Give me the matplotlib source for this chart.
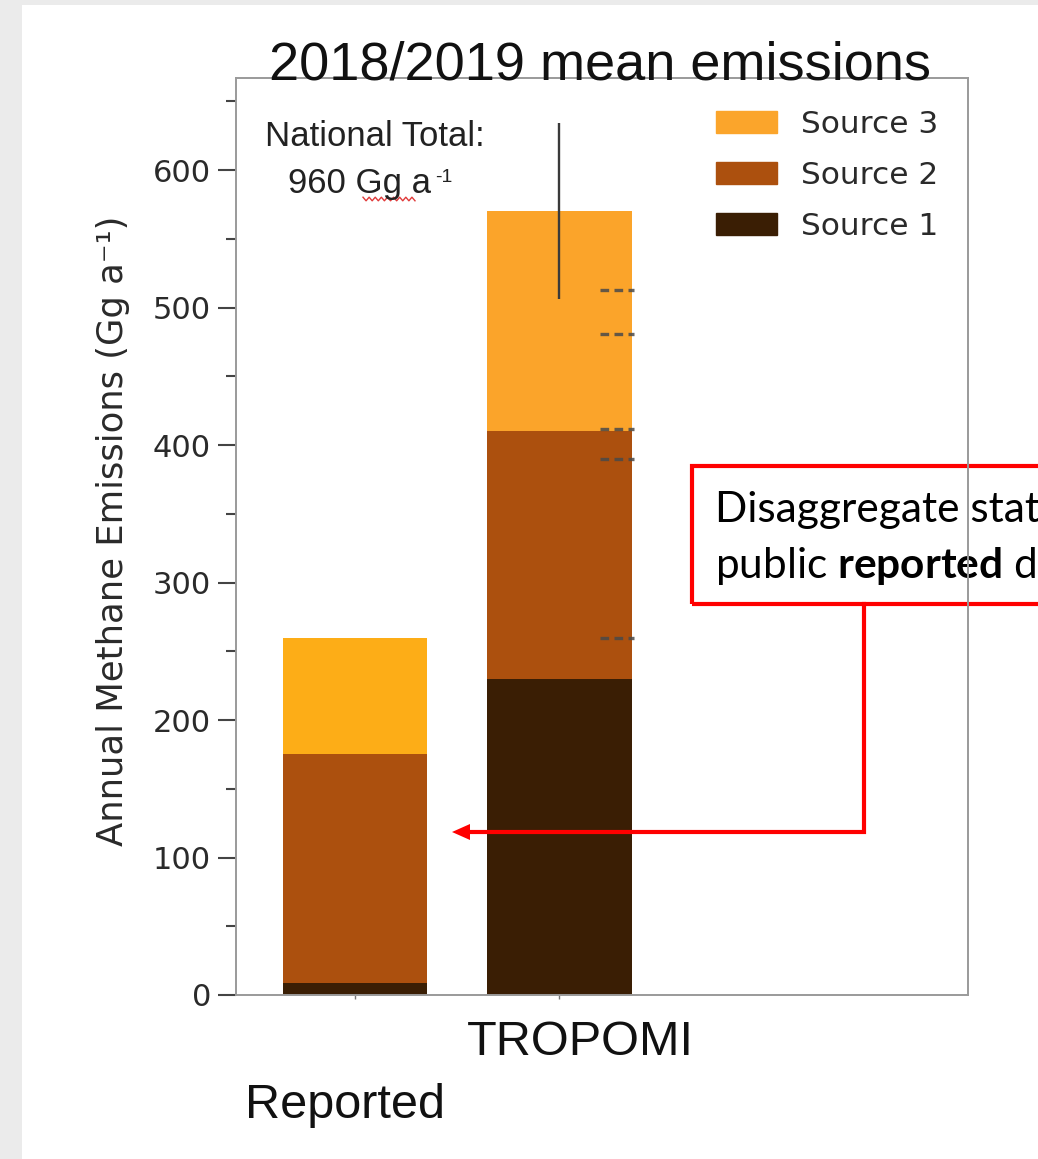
import matplotlib
matplotlib.use("Agg")
import matplotlib.pyplot as plt
import numpy as np
from matplotlib.patches import Patch, Rectangle
from matplotlib.lines import Line2D

W, H = 1038, 1159

# 各来源年排放量 (Gg a-1)，堆叠顺序 Source 1 -> 2 -> 3
groups = ["Reported", "TROPOMI"]
source1 = [9, 230]
source2 = [166, 180]
source3 = [85, 160]
tropomi_err = 64
ref_levels = [513, 481, 412, 390, 260]

c1 = "#3A1E04"
c2 = "#AC500E"
c3_bars = ["#FDAD17", "#FBA42A"]
c3_legend = "#FBA52B"

plt.rcParams["mathtext.fontset"] = "custom"
plt.rcParams["mathtext.rm"] = "Lato"
plt.rcParams["mathtext.bf"] = "Lato:bold"


def fx(x):
    return x / W


def fy(y):
    return 1 - y / H


fig = plt.figure(figsize=(W / 100, H / 100), dpi=100)
fig.patch.set_facecolor("#EBEBEB")
fig.patches.append(Rectangle((fx(22), 0), 1 - fx(22), fy(5), transform=fig.transFigure,
                             facecolor="white", edgecolor="none", zorder=-10))

ax = fig.add_axes([fx(236), fy(995), fx(968) - fx(236), fy(78) - fy(995)])
ax.set_facecolor("white")

x = np.arange(len(groups))
s1 = np.array(source1)
s2 = np.array(source2)
s3 = np.array(source3)
bw = 0.706
ax.bar(x, s1, width=bw, color=c1)
ax.bar(x, s2, bottom=s1, width=bw, color=c2)
ax.bar(x, s3, bottom=s1 + s2, width=bw, color=c3_bars)

total = s1 + s2 + s3
ax.errorbar(x[1], total[1], yerr=tropomi_err, fmt="none", ecolor="#3a3a3a", elinewidth=1.7, capsize=0)
ax.hlines(ref_levels, x[1] + 0.2, x[1] + 0.363, colors="#4a4a4a", linewidth=2.4,
          linestyles=[(0, (2.6, 1.6))], alpha=0.85)

ax.set_xlim(-0.583, 3.0)
ax.set_ylim(0, 667)
ax.set_xticks(x)
ax.set_xticklabels([])
ax.set_yticks(np.arange(0, 601, 100))
ax.set_yticks(np.arange(50, 651, 100), minor=True)
ax.tick_params(axis="y", which="major", length=13, width=1.5, color="#444", labelsize=22,
               labelcolor="#2a2a2a", pad=5)
ax.tick_params(axis="y", which="minor", length=7, width=1.5, color="#444")
ax.tick_params(axis="x", length=3, width=1, color="#777")
for sp in ax.spines.values():
    sp.set_color("#9a9a9a")
    sp.set_linewidth(1.4)

ax.legend(handles=[Patch(color=c3_legend, label="Source 3"),
                   Patch(color=c2, label="Source 2"),
                   Patch(color=c1, label="Source 1")],
          loc="upper left", bbox_to_anchor=(fx(716), fy(110)), bbox_transform=fig.transFigure,
          frameon=False, fontsize=22.5, handlelength=1.95, handleheight=0.72,
          handletextpad=0.78, labelspacing=0.7, borderpad=0, borderaxespad=0,
          labelcolor="#2a2a2a")

helv = "Liberation Sans"
fig.text(fx(600), fy(80), "2018/2019 mean emissions", ha="center", va="baseline",
         fontsize=39, family=helv, color="#111")
fig.text(fx(113), fy(531), "Annual Methane Emissions (Gg a⁻¹)", rotation=90,
         ha="center", va="center", fontsize=25.5, color="#2a2a2a")
fig.text(fx(580), fy(1055), "TROPOMI", ha="center", va="baseline", fontsize=35,
         family=helv, color="#111")
fig.text(fx(345), fy(1118), "Reported", ha="center", va="baseline", fontsize=35,
         family=helv, color="#111")

fig.text(fx(375), fy(146), "National Total:", ha="center", va="baseline", fontsize=25,
         family=helv, color="#222")
fig.text(fx(288), fy(193), "960 Gg a", ha="left", va="baseline", fontsize=25,
         family=helv, color="#222")
fig.text(fx(435), fy(182), "-1", ha="left", va="baseline", fontsize=14, family=helv, color="#222")
# 拼写检查波浪线
zx = np.linspace(363, 415, 18)
zy = 199 + np.where(np.arange(18) % 2 == 0, -1.8, 1.8)
fig.add_artist(Line2D(fx(zx), fy(zy), transform=fig.transFigure, color="#E03A3A", lw=1))

# 红色标注框与箭头
ax.add_patch(Rectangle((fx(692), fy(604)), fx(1100) - fx(692), fy(466) - fy(604),
                       transform=fig.transFigure, fill=False, edgecolor="#FF0000",
                       linewidth=3, clip_on=False, zorder=2))
ax.text(fx(715), fy(522), "Disaggregate stat", transform=fig.transFigure, ha="left",
        va="baseline", fontsize=30.5, family="Lato", color="black", clip_on=False, zorder=2)
ax.text(fx(715), fy(578), r"public $\mathbf{reported}$ d", transform=fig.transFigure,
        ha="left", va="baseline", fontsize=30.5, family="Lato", color="black", clip_on=False, zorder=2)
fig.add_artist(Line2D([fx(864), fx(864), fx(470)], [fy(604), fy(832), fy(832)],
                      transform=fig.transFigure, color="#FF0000", lw=3, solid_joinstyle="miter"))
fig.add_artist(plt.Polygon([[fx(452), fy(832)], [fx(470), fy(824)], [fx(470), fy(840)]],
                           closed=True, transform=fig.transFigure, color="#FF0000", lw=0))

fig.savefig("out.png", dpi=100)
